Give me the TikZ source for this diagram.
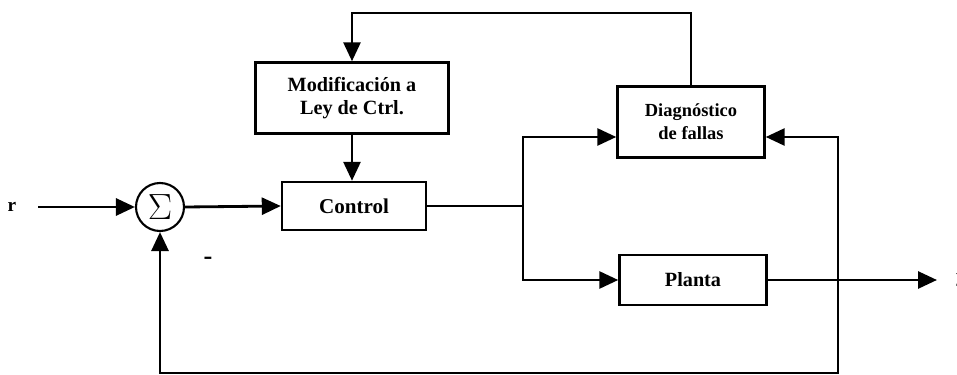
\documentclass[tikz,border=0pt]{standalone}
\usepackage{fontspec}
\setmainfont{Liberation Serif}
\usetikzlibrary{arrows.meta}

\begin{document}
\begin{tikzpicture}[x=0.02cm,y=-0.02cm]

  \useasboundingbox (0,0) rectangle (957,375);

  % node styles
  \tikzstyle{Box}=[
  draw,
  line width=1.4pt,
  shape=rectangle,
  align=center,
  inner sep=0.5mm,
  font=\bfseries\fontsize{11.5}{13.5}\selectfont]

  \tikzstyle{Sum}=[draw,line width=1.2pt,shape=circle,minimum size=0.96cm,inner sep=0pt]

  \tikzstyle{Label}=[font=\bfseries\fontsize{11}{13}\selectfont]

  \tikzstyle{Sig}=[line width=1.6pt,-{Triangle[length=3.8mm,width=3.4mm]}]
  \tikzstyle{Wire}=[line width=1.6pt]

  \node[Label] (r) at (12,207) {r};
  \node[Sum] (S) at (160,207) {\fontsize{20}{20}\selectfont$\Sigma$};
  \node[Box,minimum width=2.88cm,minimum height=0.96cm,
    font=\bfseries\fontsize{12}{14}\selectfont] (C) at (354,206) {Control};
  \node[Box,minimum width=3.86cm,minimum height=1.42cm] (M) at (352,98) {Modificación a\\Ley de Ctrl.};
  \node[Box,minimum width=2.94cm,minimum height=1.42cm,
    font=\bfseries\fontsize{10.5}{13}\selectfont] (D) at (691,122) {Diagnóstico\\de fallas};
  \node[Box,minimum width=2.94cm,minimum height=1.0cm] (P) at (693,280) {Planta};
  \node[Label,font=\bfseries\fontsize{15}{15}\selectfont] (minus) at (208,261) {-};
  \node[Label,anchor=west] (y) at (950,280) {y};

  \coordinate (in)  at (38,207);
  \coordinate (br)  at (523,206);
  \coordinate (tap) at (838,280);
  \coordinate (out) at (937,280);
  \coordinate (top) at (0,13);
  \coordinate (bot) at (0,373);

  \draw[Sig] (in) -- (S.west);
  \draw[Sig] (S.east) -- (C.west);
  \draw[Sig] (M.south) -- (M.south |- C.north);
  \draw[Sig] (D.north) -- (D.north |- top) -| (M.north);

  \draw[Wire] (C.east) -- (br);
  \draw[Sig] (br) |- ([yshift=-0.3cm]D.west);
  \draw[Sig] (br) |- (P.west);

  \draw[Sig] (P.east) -- (out);
  \draw[Sig] (tap) |- ([yshift=-0.3cm]D.east);
  \draw[Sig] (tap) -- (tap |- bot) -| (S.south);

\end{tikzpicture}
\end{document}
